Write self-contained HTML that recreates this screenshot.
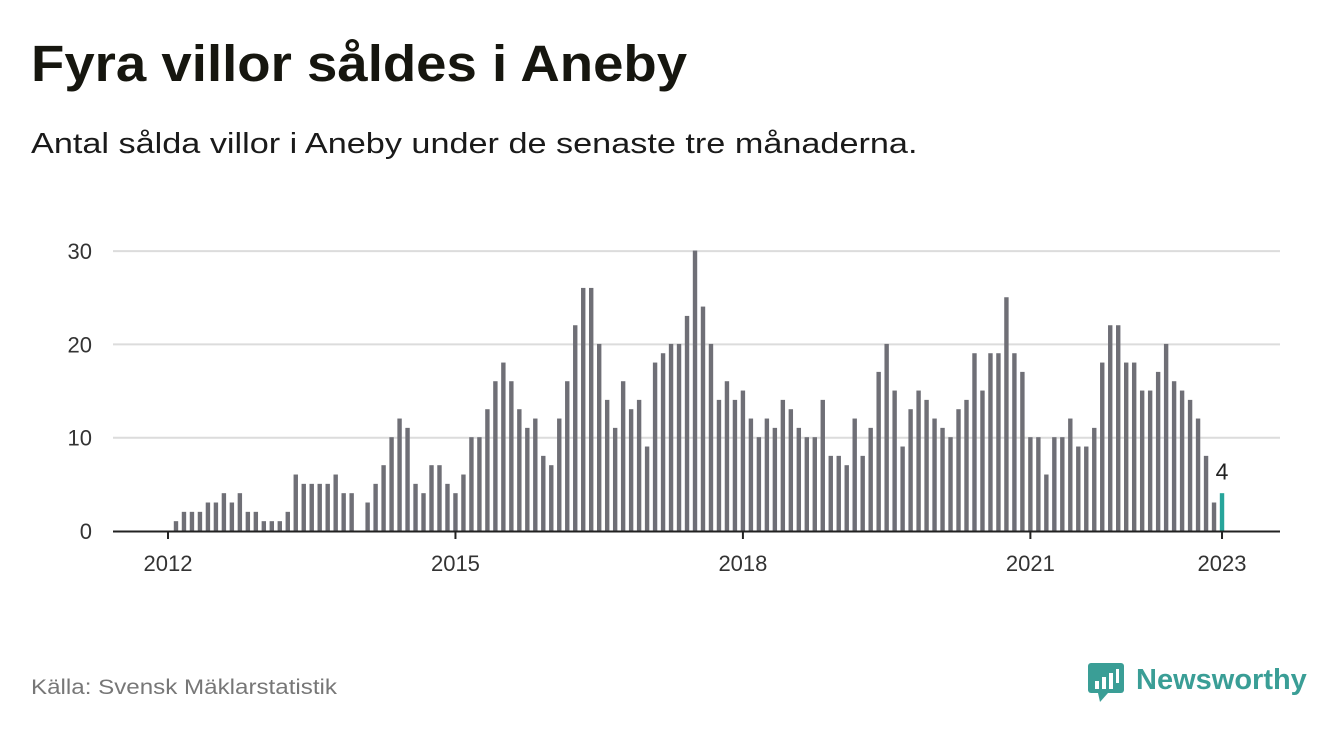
<!DOCTYPE html>
<html><head><meta charset="utf-8">
<style>
body{margin:0;background:#fff;width:1340px;height:734px;overflow:hidden;font-family:"Liberation Sans",sans-serif;}
#title{position:absolute;left:31px;top:34px;font-size:51px;font-weight:bold;color:#16160f;margin:0;transform:scaleX(1.07);transform-origin:left top;white-space:nowrap}
#sub{position:absolute;left:31px;top:128px;font-size:29px;color:#1a1a1a;margin:0;transform:scaleX(1.18);transform-origin:left top;white-space:nowrap}
#src{position:absolute;left:31px;top:676px;font-size:21px;color:#777;transform:scaleX(1.15);transform-origin:left top;white-space:nowrap}
#logo{position:absolute;left:1088px;top:660px;}
</style></head><body>
<h1 id="title">Fyra villor såldes i Aneby</h1>
<p id="sub">Antal sålda villor i Aneby under de senaste tre månaderna.</p>
<svg id="chart" width="1340" height="734" style="position:absolute;left:0;top:0"></svg>
<div id="src">Källa: Svensk Mäklarstatistik</div>
<svg id="logo" width="230" height="46">
<rect x="0" y="3" width="36" height="30" rx="3" fill="#3a9e96"/>
<polygon points="10,33 20,33 12,42" fill="#3a9e96"/>
<rect x="7" y="21" width="4" height="8" fill="#fff"/><rect x="14" y="17" width="4" height="12" fill="#fff"/><rect x="21" y="13" width="4" height="16" fill="#fff"/><rect x="28" y="9" width="3" height="14" fill="#fff"/>
<text x="48" y="29" font-size="29" font-weight="bold" fill="#3a9e96" font-family="Liberation Sans, sans-serif">Newsworthy</text>
</svg>
<script>
const years=[2012,2013,2014,2015,2016,2017,2018,2019,2020,2021,2022];
const values=[
0,1,2,2,2,3,3,4,3,4,2,2,
1,1,1,2,6,5,5,5,5,6,4,4,
0,3,5,7,10,12,11,5,4,7,7,5,
4,6,10,10,13,16,18,16,13,11,12,8,
7,12,16,22,26,26,20,14,11,16,13,14,
9,18,19,20,20,23,30,24,20,14,16,14,
15,12,10,12,11,14,13,11,10,10,14,8,
8,7,12,8,11,17,20,15,9,13,15,14,
12,11,10,13,14,19,15,19,19,25,19,17,
10,10,6,10,10,12,9,9,11,18,22,22,
18,18,15,15,17,20,16,15,14,12,8,3,
4];
const yTicks=[0,10,20,30];
const xTickLabels=["2012","2015","2018","2021","2023"];
const xTickIdx=[0,36,72,108,132];
const NS="http://www.w3.org/2000/svg";
const svg=document.getElementById('chart');
const x0=168,mw=7.985,yb=531,yu=9.33;
const xs=i=>x0+i*mw;
const ys=v=>yb-v*yu;
function mk(t,a){const e=document.createElementNS(NS,t);for(const k in a)e.setAttribute(k,a[k]);svg.appendChild(e);return e;}
yTicks.forEach(v=>{
  if(v>0){const g=mk('line',{x1:113,x2:1280,y1:ys(v),y2:ys(v),stroke:'#dcdcdc','stroke-width':2});
  
  }
  const t=mk('text',{x:92,y:ys(v)+8,'text-anchor':'end','font-size':22,fill:'#333'});
  t.textContent=v;
  
  
});
values.forEach((v,i)=>{
  const last=i===values.length-1;
  if(v<=0)return;
  const r=mk('rect',{x:xs(i)-2.2,y:ys(v)-0.5,width:4.4,height:v*yu+0.5,fill:last?'#27a59b':'#6f6f76'});
  
  
});
const ax=mk('line',{x1:113,x2:1280,y1:yb+0.5,y2:yb+0.5,stroke:'#222','stroke-width':2});


xTickIdx.forEach((idx,k)=>{
  const tk=mk('line',{x1:xs(idx),x2:xs(idx),y1:yb,y2:yb+8,stroke:'#222','stroke-width':2});
  
  
  const t=mk('text',{x:xs(idx),y:yb+40,'text-anchor':'middle','font-size':22,fill:'#333'});
  t.textContent=xTickLabels[k];
  
  
});
const li=values.length-1;
const lab=mk('text',{x:xs(li),y:ys(values[li])-14,'text-anchor':'middle','font-size':23,fill:'#222'});
lab.textContent=values[li];


</script>
</body></html>
